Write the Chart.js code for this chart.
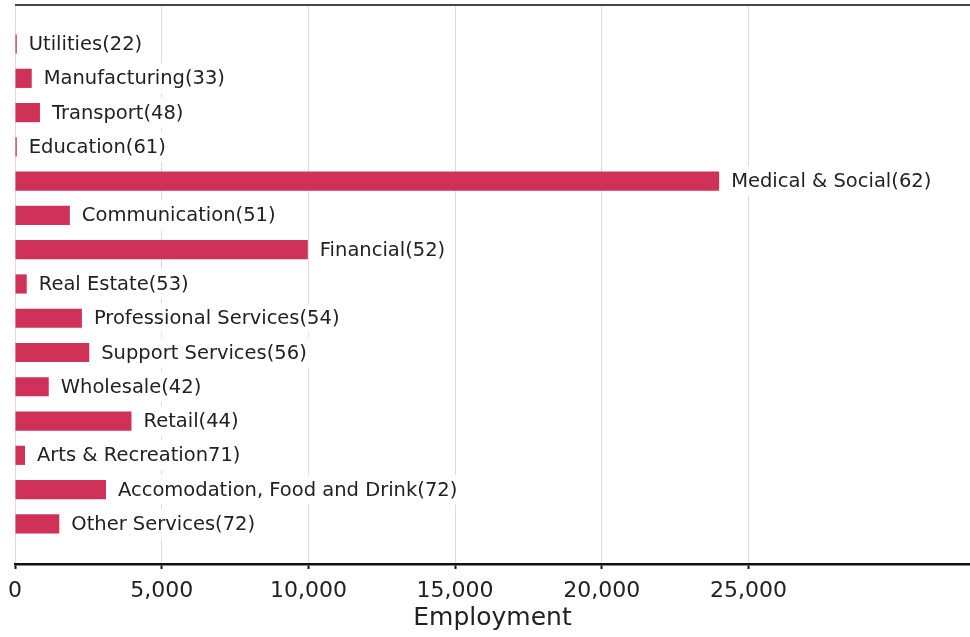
<!DOCTYPE html>
<html>
<head>
<meta charset="utf-8">
<script src="https://cdn.jsdelivr.net/npm/chart.js@4.4.1/dist/chart.umd.min.js"></script>
<style>
  html, body { margin: 0; padding: 0; background: #fff; }
  #wrap { width: 970px; height: 637px; }
</style>
</head>
<body>
<div id="wrap"><canvas id="c"></canvas></div>
<script>
// sectors, top to bottom
var categories = ['Utilities', 'Manufacturing', 'Transport', 'Education', 'Medical & Social',
    'Communication', 'Financial', 'Real Estate', 'Professional Services', 'Support Services',
    'Wholesale', 'Retail', 'Arts & Recreation', 'Accomodation, Food and Drink', 'Other Services'];
// text shown beside each bar (as printed, incl. the missing bracket)
var barLabels = ['Utilities(22)', 'Manufacturing(33)', 'Transport(48)', 'Education(61)',
    'Medical & Social(62)', 'Communication(51)', 'Financial(52)', 'Real Estate(53)',
    'Professional Services(54)', 'Support Services(56)', 'Wholesale(42)', 'Retail(44)',
    'Arts & Recreation71)', 'Accomodation, Food and Drink(72)', 'Other Services(72)'];
var employment = [60, 570, 850, 60, 24000, 1870, 9980, 400, 2280, 2530, 1150, 3970, 340, 3100, 1510];
var xTicks = [0, 5000, 10000, 15000, 20000, 25000];

var FONT = 'DejaVu Sans';

var points = employment.map(function (v, i) { return { x: v, y: i }; });

// labels beside bars, on a white box
var barText = {
    id: 'barText',
    afterDatasetsDraw: function (chart) {
        var ctx = chart.ctx;
        var meta = chart.getDatasetMeta(0);
        ctx.save();
        ctx.font = '19.5px "' + FONT + '"';
        ctx.textBaseline = 'middle';
        meta.data.forEach(function (bar, i) {
            var txt = barLabels[i];
            var x = bar.x + 12;
            var w = ctx.measureText(txt).width;
            ctx.fillStyle = 'rgba(255,255,255,0.92)';
            ctx.fillRect(x - 3, bar.y - 15, w + 6, 30);
            ctx.fillStyle = '#222';
            ctx.fillText(txt, x, bar.y + 1);
        });
        ctx.restore();
    }
};

// dark line along the top of the plot
var topLine = {
    id: 'topLine',
    afterDraw: function (chart) {
        var a = chart.chartArea, ctx = chart.ctx;
        ctx.save();
        ctx.strokeStyle = '#444';
        ctx.lineWidth = 2;
        ctx.beginPath();
        ctx.moveTo(a.left, a.top);
        ctx.lineTo(a.right, a.top);
        ctx.stroke();
        ctx.restore();
    }
};

new Chart(document.getElementById('c'), {
    type: 'bar',
    data: {
        labels: categories,
        datasets: [{
            label: 'Employment',
            data: points,
            backgroundColor: '#d03159',
            borderWidth: 0,
            categoryPercentage: 1,
            barPercentage: 0.56
        }]
    },
    options: {
        indexAxis: 'y',
        responsive: true,
        maintainAspectRatio: false,
        animation: false,
        layout: { padding: { left: 15, top: 5, right: 0, bottom: 0 } },
        plugins: { legend: { display: false }, tooltip: { enabled: false } },
        scales: {
            y: {
                type: 'linear',
                reverse: true,
                offset: false,
                min: -1.14,
                max: 15.17,
                display: false
            },
            x: {
                min: 0,
                max: 32550,
                afterBuildTicks: function (scale) {
                    scale.ticks = xTicks.map(function (v) { return { value: v }; });
                },
                grid: {
                    color: '#dcdcdc',
                    lineWidth: 1,
                    tickColor: '#111',
                    tickLength: 5,
                    tickWidth: 2
                },
                border: { color: '#111', width: 2.5 },
                ticks: {
                    color: '#222',
                    padding: 8,
                    maxRotation: 0,
                    font: { family: FONT, size: 22, lineHeight: 1.32 },
                    callback: function (v) { return v.toLocaleString('en-US'); }
                },
                title: {
                    display: true,
                    text: 'Employment',
                    color: '#222',
                    font: { family: FONT, size: 25, lineHeight: 1 },
                    padding: { top: -8.5, bottom: 6.5 }
                }
            }
        }
    },
    plugins: [barText, topLine]
});
</script>
</body>
</html>
